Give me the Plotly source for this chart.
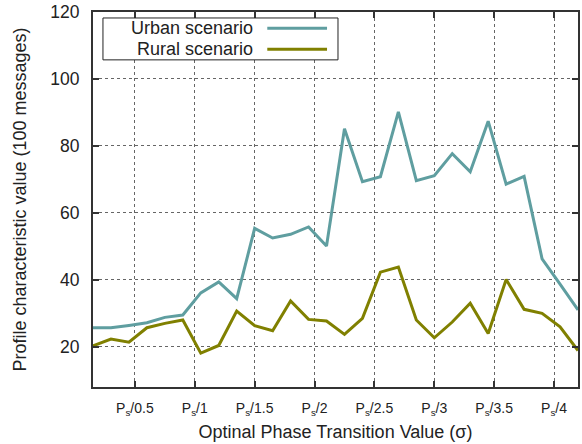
import plotly.graph_objects as go

# Data
x_values = [round(0.15 * k, 2) for k in range(1, 29)]
urban = [25.7, 25.7, 26.4, 27.2, 28.8, 29.5, 36.1, 39.4, 34.4, 55.4,
         52.5, 53.6, 55.8, 50.1, 85.1, 69.3, 70.8, 90.2, 69.6, 71.1,
         77.7, 72.3, 87.4, 68.6, 70.9, 46.3, 38.7, 31.0]
rural = [20.3, 22.3, 21.4, 25.7, 27.0, 28.0, 18.1, 20.4, 30.7, 26.3,
         24.8, 33.7, 28.2, 27.7, 23.7, 28.5, 42.3, 43.8, 28.0, 22.7,
         27.4, 33.0, 24.0, 40.1, 31.2, 30.0, 26.0, 18.9]
tick_vals = [0.5, 1, 1.5, 2, 2.5, 3, 3.5, 4]
tick_text = ["P<sub>s</sub>/0.5", "P<sub>s</sub>/1", "P<sub>s</sub>/1.5", "P<sub>s</sub>/2",
             "P<sub>s</sub>/2.5", "P<sub>s</sub>/3", "P<sub>s</sub>/3.5", "P<sub>s</sub>/4"]
series_names = ["Urban scenario", "Rural scenario"]
colors = ["#5f9ea0", "#808000"]

fig = go.Figure()
for name, vals, col in zip(series_names, [urban, rural], colors):
    fig.add_trace(go.Scatter(x=x_values, y=vals, mode="lines", name=name,
                             line=dict(color=col, width=3), showlegend=False))

FONT = "Liberation Sans, Arial, sans-serif"
fig.update_layout(
    width=582, height=444,
    margin=dict(l=93, r=2, t=11, b=57),
    paper_bgcolor="white", plot_bgcolor="white",
    font=dict(family=FONT, size=16, color="#222"),
)
axis_common = dict(showline=True, linecolor="#333", linewidth=2, mirror="ticks",
                   ticks="inside", ticklen=6, tickcolor="#333", tickwidth=1.5,
                   showgrid=True, gridcolor="#666", gridwidth=1, griddash="dot",
                   zeroline=False)
fig.update_xaxes(range=[0.15, 4.2], tickvals=tick_vals, ticktext=tick_text,
                 tickfont=dict(family=FONT, size=14, color="#222"),
                 title=dict(text="Optinal Phase Transition Value (σ)", standoff=9,
                            font=dict(family=FONT, size=18)),
                 ticklabelstandoff=7, **axis_common)
fig.update_yaxes(range=[8, 120], tickvals=[20, 40, 60, 80, 100, 120],
                 tickfont=dict(family=FONT, size=17.5, color="#222"),
                 title=dict(text="Profile characteristic value (100 messages)", standoff=19,
                            font=dict(family=FONT, size=18)),
                 ticklabelstandoff=8, **axis_common)

# gnuplot-style legend box: text on the left, line sample on the right
W, H = 487.0, 376.0
fig.add_shape(type="rect", xref="paper", yref="paper",
              x0=(103 - 93) / W, x1=(339 - 93) / W,
              y0=(387 - 59) / H, y1=(387 - 17) / H,
              line=dict(color="#222", width=1), fillcolor="white", layer="above")
for i, (name, col) in enumerate(zip(series_names, colors)):
    ypix = 27.3 + i * 21
    yp = (387 - ypix) / H
    fig.add_annotation(xref="paper", yref="paper", x=(256 - 93) / W, y=yp,
                       text=name, showarrow=False, xanchor="right", yanchor="middle",
                       font=dict(family=FONT, size=18, color="#222"))
    fig.add_shape(type="line", xref="paper", yref="paper",
                  x0=(268 - 93) / W, x1=(328 - 93) / W, y0=yp, y1=yp,
                  line=dict(color=col, width=3), layer="above")

fig.write_html("out.html", config={"displayModeBar": False},
               post_script="document.body.style.margin='0';document.body.style.overflow='hidden';")
